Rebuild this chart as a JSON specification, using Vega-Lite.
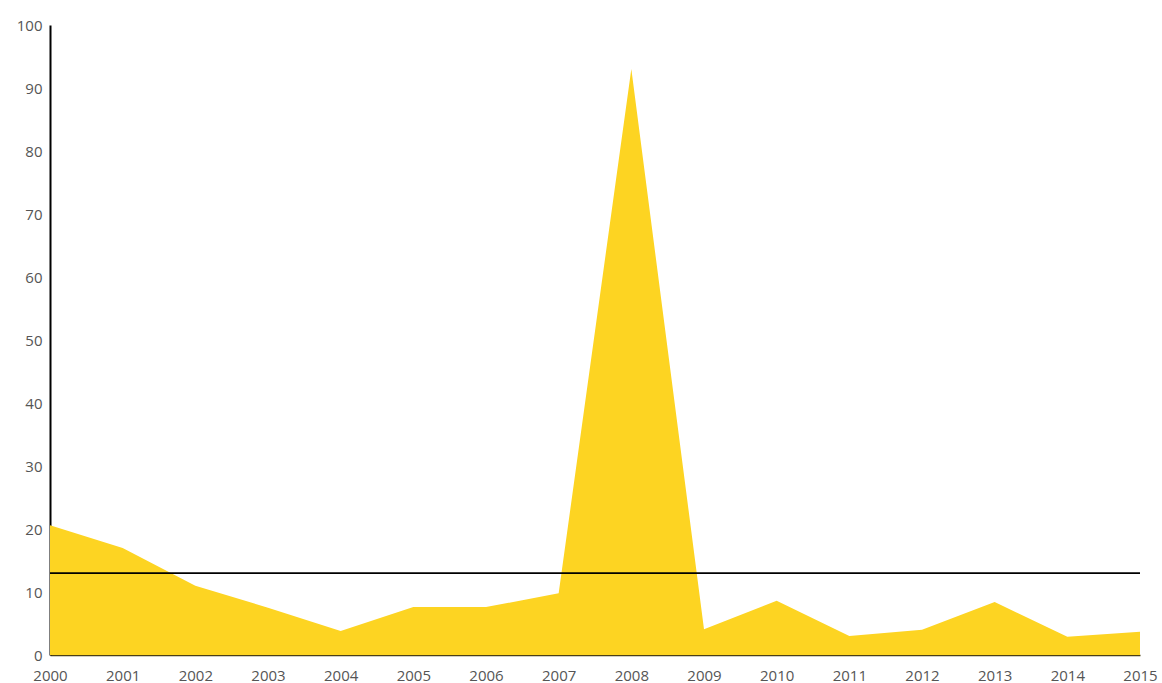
{
  "$schema": "https://vega.github.io/schema/vega-lite/v6.json",
  "autosize": "none",
  "width": 1090,
  "height": 630,
  "padding": {"left": 50, "top": 25, "right": 22, "bottom": 28},
  "background": "white",
  "config": {"view": {"stroke": null}, "font": "Open Sans"},
  "layer": [
    {
      "data": {"values": [
        {"year": 2000, "value": 20.6},
        {"year": 2001, "value": 17.0},
        {"year": 2002, "value": 11.0},
        {"year": 2003, "value": 7.5},
        {"year": 2004, "value": 3.8},
        {"year": 2005, "value": 7.6},
        {"year": 2006, "value": 7.6},
        {"year": 2007, "value": 9.8},
        {"year": 2008, "value": 93.0},
        {"year": 2009, "value": 4.1},
        {"year": 2010, "value": 8.6},
        {"year": 2011, "value": 3.0},
        {"year": 2012, "value": 4.0},
        {"year": 2013, "value": 8.4},
        {"year": 2014, "value": 2.9},
        {"year": 2015, "value": 3.7}
      ]},
      "mark": {"type": "area", "color": "#FDD422", "opacity": 1},
      "encoding": {
        "x": {
          "field": "year", "type": "quantitative",
          "scale": {"domain": [2000, 2015], "nice": false, "zero": false},
          "axis": {
            "title": null, "format": "d", "values": [2000,2001,2002,2003,2004,2005,2006,2007,2008,2009,2010,2011,2012,2013,2014,2015],
            "grid": false, "ticks": false, "labelFlush": false,
            "domainColor": "#4a3f15", "domainWidth": 1.6,
            "labelColor": "#555555", "labelFontSize": 15, "labelPadding": 13
          }
        },
        "y": {
          "field": "value", "type": "quantitative",
          "scale": {"domain": [0, 100], "nice": false},
          "axis": {
            "title": null, "values": [0,10,20,30,40,50,60,70,80,90,100],
            "grid": false, "ticks": false,
            "domainColor": "#000000", "domainWidth": 2,
            "labelColor": "#555555", "labelFontSize": 15, "labelPadding": 8
          }
        }
      }
    },
    {
      "data": {"values": [{"avg": 13.0}]},
      "mark": {"type": "rule", "color": "#000000", "strokeWidth": 1.6},
      "encoding": {
        "y": {"field": "avg", "type": "quantitative"}
      }
    }
  ]
}
